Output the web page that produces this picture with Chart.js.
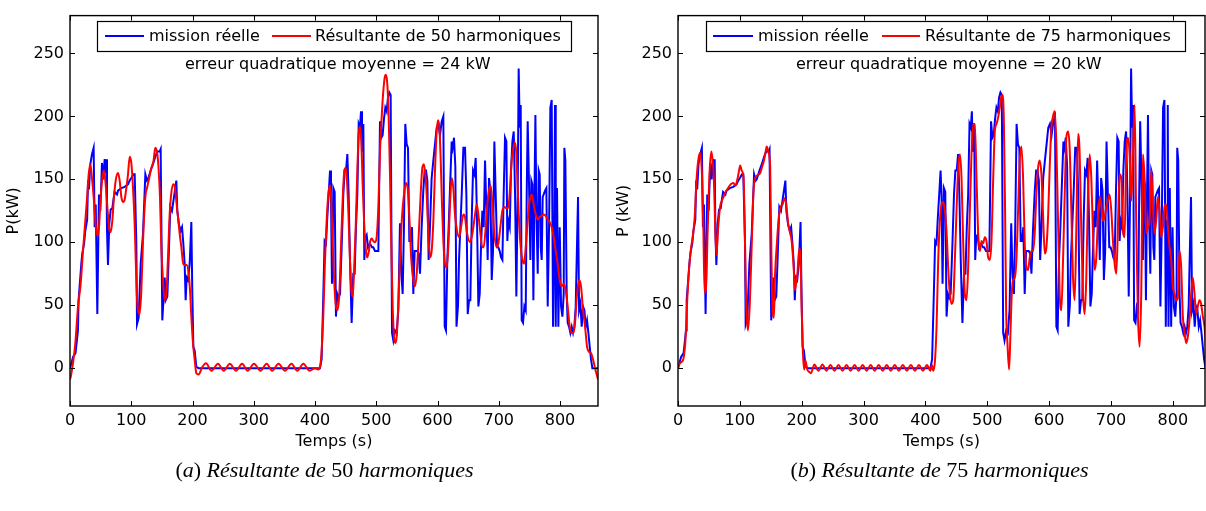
<!DOCTYPE html>
<html><head><meta charset="utf-8">
<script src="https://cdn.jsdelivr.net/npm/chart.js@4.4.0/dist/chart.umd.min.js"></script>
<style>
html,body{margin:0;padding:0;background:#fff;width:1206px;height:511px;overflow:hidden;}
#c1{position:absolute;left:0;top:0;}
#c2{position:absolute;left:603px;top:0;}
.cap{position:absolute;top:454px;width:603px;text-align:center;font-family:"Liberation Serif","Times New Roman",serif;font-size:22px;line-height:32px;color:#000;white-space:nowrap;}
.cap i{font-style:italic}
</style></head><body>
<canvas id="c1" width="603" height="511"></canvas>
<canvas id="c2" width="603" height="511"></canvas>
<div class="cap" style="left:23px">(<i>a</i>) <i>Résultante de</i> 50 <i>harmoniques</i></div>
<div class="cap" style="left:638px">(<i>b</i>) <i>Résultante de</i> 75 <i>harmoniques</i></div>
<script>
// ---- data (time in s, power in kW) ----
const blueT = [0,1,5,9,13,14,18.5,20,23,25,28,29.4,31,33.2,35.9,38.6,40.3,42,44.6,47.3,49.5,52.2,54.4,56.6,58.2,59.3,60.4,62,64.2,66.4,69.1,71.3,72.9,76.7,78.4,83.8,89.3,94.7,97.4,100.1,103.4,105.6,108.3,109.4,112.1,115.4,119.2,123,125.7,127.3,131.7,135.5,139.3,142.6,146.4,148,150.7,154.6,156.2,158.9,161.1,163.8,166.5,169.8,173.6,175.2,178,180.7,182.9,185,187.2,188.8,190.5,192.7,195.4,198.1,199.7,201.4,203.5,206.3,210,
408,410.8,413.6,415.7,417.9,420.1,422.3,424.5,426.1,427.7,429.9,432.1,434.2,436.4,438.6,440.8,443.5,446.2,448.4,450.6,452.8,454.9,457.1,459.8,462.5,464.7,466.9,469.1,471.3,473.4,475.1,476.7,478.9,480.5,482.1,484.3,486.5,488.7,490.8,493,495.2,497.9,500.6,503.4,506.1,508.3,510.4,512.6,514.8,517,519.1,521.3,523.5,525.7,527.9,530.6,533.3,536,538.7,540.9,543.1,545.3,547.4,549.6,551.8,554,556.2,558.3,560.5,562.7,564.9,567,569.2,571.4,574.1,576.8,579,581.2,583.4,585.5,587.7,590.4,593.2,595.9,598.6,601.3,604,606.8,609.5,611.7,613.8,616,618.2,620.4,623.1,624.7,626.9,629.1,631,633.5,635.1,637.3,639.5,642.2,644.9,647.1,649.3,651.5,653.6,655.8,658,660.2,662.3,664.5,666.7,668.9,671,673.2,675.4,677.6,679.8,681.9,684.1,686.3,688.5,690.6,692.8,695,697.2,699.3,701.5,703.7,705.9,708,710.2,712.4,714,715.7,717.9,720,722.2,724.4,726.6,728.7,730.9,732.5,734.2,735.8,737.4,739.6,741.8,744,745.6,747.2,749.4,751.6,753.2,754.9,756.5,758.1,759.8,761.4,763.6,765.2,766.8,768.5,770.1,771.7,773.4,775.5,777.7,779.9,782.1,784.2,786.4,788.6,790.8,791.8,793,795.1,797.3,799.5,801.7,803.9,806,807.1,808.7,810.9,812.5,814.7,816.9,819.1,821.3,823.4,825.6,827.8,829.4,831.1,833.2,835.4,837.6,839.8,841.9,844.1,846.3,848.5,850.6,852.8,862];
const blueP = [0,0,9,12,30,54,83,91,99,109,118,149,142,162,170,175,112,130,43,138,125,163,150,166,155,166,110,82,115,126,127,135,140,138,141,143,144,146,149,151,154,154,99,35,40,83,107,154,149,150,157,162,168,172,172,174,38,72,54,57,88,128,125,136,149,125,114,109,112,99,83,54,72,70,83,116,60,17,14,1,0,
0,7,59,101,99,120,138,157,136,67,143,140,41,59,56,59,96,138,157,157,170,138,86,36,75,75,112,138,194,191,204,172,194,86,104,106,96,98,98,96,96,93,93,93,196,183,185,198,207,204,215,219,217,28,22,30,28,46,115,75,59,115,194,178,175,101,101,112,59,93,93,93,91,75,112,141,157,157,149,86,112,151,165,178,191,194,185,196,200,33,30,86,112,143,180,175,183,160,33,50,86,112,138,175,175,138,43,54,54,117,157,154,167,117,49,59,96,125,112,165,125,86,151,141,70,93,180,138,96,96,93,88,86,138,183,180,101,117,112,157,180,188,138,57,138,238,191,209,38,36,49,46,138,196,146,86,149,146,54,130,201,125,75,157,154,96,86,136,138,141,143,49,112,207,213,33,117,209,33,143,33,112,49,41,59,175,165,59,36,33,28,33,28,33,49,100,136,46,51,33,49,46,33,38,28,17,7,0,0];

const red50T = [0,1.1,4.9,8.7,13.1,17.4,21.2,25,28.3,30.5,33.2,35.9,38.6,41.9,44.6,47.3,50.1,52.8,55.5,58.2,61,63.7,66.4,69.1,71.8,74.6,78.4,81.1,83.8,86.5,89.3,92,94.7,97.4,100.1,102.9,105.6,107.2,108.8,111,113.7,116.5,119.2,123,125.7,128.4,132.8,136.1,139.3,142.6,144.8,146.9,149.1,151.8,154.6,157.3,160,162.7,165.4,168.7,171.4,174.1,176.3,179,181.8,184.5,187.2,190.5,193.7,195.9,198.1,200.8,203.5,206.3,210,216,222,231,241.6,251,261,271,281,290,300.4,311,321,330,340.4,351,361.6,371,381,391,400,405,
408.1,410.8,413.6,416.3,419,421.7,424.5,426.6,428.8,431,433.7,436.4,439.7,442.4,445.1,447.9,450,452.2,454.4,457.1,459.3,461.5,463.6,466.4,469.1,471.3,473.4,475.6,477.8,480.5,483.2,485.4,487.6,489.8,492.5,495.2,497.9,500.6,503.4,506.1,508.8,511.5,514.3,515.9,518.1,520.2,522.4,524.6,526.8,529,531.1,533.3,536,538.7,542,545.3,548.5,551.3,554,557.2,560.5,563.2,566,569.2,572.5,575.2,577.9,580.1,582.3,585,587.7,590.4,593.2,595.9,598.6,600.8,603,605.1,607.3,609.5,612.2,615,617.6,620.4,623.1,625.8,628.5,631.5,635.1,638.4,642.2,644.9,647.6,653.1,656.9,661.3,664,666.7,670,673.2,675.4,678.7,681.9,684.7,686.8,689.6,692.8,696.1,699.3,702.6,705.9,709.1,713,715.7,718.4,721.1,723.8,726.6,728.7,730.9,733.1,735.8,738.5,741.3,744,747.2,750.5,753.8,757,760.3,763.6,766.8,770.1,773.4,776.6,779.9,783.2,786.4,789.7,793,796.2,799.5,802.7,806,809.3,812.5,815.8,819.1,821.8,824.5,827.8,831.1,834.3,837.6,840.9,844.1,847.4,850.6,853.9,857.2,862];
const red50P = [-9,-7,4,20,49,67,93,117,138,154,162,151,136,114,105,112,136,151,157,146,128,112,108,117,136,149,155,149,136,132,134,143,154,168,163,143,114,88,62,46,43,62,101,136,143,149,159,164,175,170,157,136,96,70,54,59,88,122,139,146,143,130,120,107,96,84,82,82,75,62,41,20,7,-4,-5,1,4,-2,3.5,-2,3.5,-2,3.5,-2,3.5,-2,3.5,-2,3.5,-2,3.5,-2,3.5,-2,0,-1,
1,14,43,86,117,138,145,133,99,72,51,46,59,96,133,157,159,149,125,86,62,57,75,112,157,186,192,180,146,112,93,88,92,100,103,101,100,104,128,172,199,220,232,233,225,201,154,96,49,25,20,25,51,86,120,138,147,143,120,86,70,65,75,104,138,159,162,154,138,107,88,93,117,157,188,197,191,167,130,101,83,80,96,130,151,143,122,110,104,112,122,120,109,100,107,122,130,122,107,96,96,112,133,143,145,130,107,96,99,112,125,128,127,128,143,165,175,179,170,143,117,96,86,83,96,117,133,138,130,122,118,120,121,122,121,118,116,112,104,93,83,70,65,67,62,49,33,28,28,36,59,70,65,46,33,17,13,12,7,0,-9];

const red75T = [0,3,6,9,12,15,18,21,24,27,30,33,36,39,41,43,45,48,51,53.8,56,58,60,62,65,68,71,73.6,77,81,85,89.7,93,96,98,100.6,103,106,108,110,113,116,119,122,124.8,128,132.8,136,139,141,143.5,146,149,151,153,155,157,160,163,166,169,172,175,178,181,184,187,189,191,193,196,198,200,202,204,206,209,212.5,215,220.5,227,233.5,240,246.5,253,259.5,266,272.5,279,285.5,292,298.5,305,311.5,318,324.5,331,337.5,344,350.5,357,363.5,370,376.5,383,389.5,396,402.5,408,410.5,
412.6,415.3,418,420.7,423.4,426.1,428.8,431.5,434.1,436.8,439.5,442.2,444.9,447.6,450.3,453,455.7,458.4,461.1,463.7,466.4,469.1,471.8,474.5,477.2,479.9,482.6,485.3,488,490.6,493.3,496,498.7,501.4,504.1,506.8,509.5,512.2,514.9,517.5,520.2,522.4,524.5,526.7,528.8,530.5,532.6,535.3,537.5,539.6,541.8,544.5,547.1,549.8,552.5,555.2,557.9,560.6,563.3,566,568.7,571.4,574,576.7,579.4,582.1,584.8,587.5,590.2,592.9,595.6,598.3,600.9,603.6,606.3,609,611.7,614.4,617.1,619.8,622.5,625.2,627.9,630.5,633.2,635.9,638.6,641.3,644,646.7,649.4,652.1,654.8,657.4,660.1,662.8,665.5,668.2,670.9,673.6,676.3,679,681.7,684.3,687,689.7,692.4,695.1,697.8,700.5,703.2,705.9,708.6,711.2,713.9,716.6,719.3,722,724.7,727.4,730.1,732.8,735.5,738.2,740.9,743.5,746.2,748.9,751.6,754.3,757,759.7,762.4,765.1,767.8,770.4,773.1,775.8,778.5,781.2,783.9,786.6,789.3,792,794.7,797.3,800,802.7,805.4,808.1,810.8,813.5,816.2,818.9,821.6,824.2,826.9,829.6,832.3,835,837.7,840.4,843.1,845.8,848.5,851.2,855];
const red75P = [0,4,5,8,22,55,80,95,105,120,150,166,171,150,110,60,62,110,155,172,165,150,115,90,112,128,133,136,140,143,146,147,145,150,155,161,157,151,110,55,30,50,95,140,151,153,155,160,165,170,176,172,160,90,45,40,75,100,120,128,130,135,130,115,108,100,80,62,68,75,95,90,45,12,-1,6,-1,-3,-4,3,-2,3,-2,2.5,-2,2.5,-2,2.5,-2,2.5,-2,2.5,-2,2.5,-2,2.5,-2,2.5,-2,2.5,-2,2.5,-2,2.5,-2,2.5,-2,2.5,-2,2.5,-2,5,
33,86,117,130,132,125,109,80,59,51,54,86,125,159,170,151,99,59,54,80,125,170,194,194,151,107,93,101,99,104,101,88,86,101,149,188,194,199,207,215,217,199,125,46,20,-1,28,59,70,72,86,125,165,176,151,99,80,78,88,93,93,107,138,159,165,154,122,91,96,120,159,191,200,204,178,117,59,46,86,138,183,188,175,125,72,54,112,186,170,107,59,43,72,138,170,151,107,78,88,120,136,130,117,120,128,133,138,125,101,83,75,112,154,151,112,104,170,183,170,133,170,209,112,43,17,59,170,151,107,112,117,157,128,107,117,136,125,104,112,128,130,112,96,86,65,59,54,56,93,80,41,28,20,25,38,59,72,59,43,49,54,51,41,33,7,1,-2];

const xTickStep = 100, yTickStep = 50;
const yMin = -30, yMax = 280;

function pts(T, P) { return T.map((t, i) => ({x: t, y: P[i]})); }

const FONT = 'DejaVu Sans';

const framePlugin = {
  id: 'frame',
  afterDatasetsDraw(chart) {
    const {ctx, chartArea: a, scales: {x, y}} = chart;
    ctx.save();
    ctx.strokeStyle = '#000';
    ctx.lineWidth = 1.4;
    ctx.strokeRect(a.left, a.top, a.right - a.left, a.bottom - a.top);
    ctx.lineWidth = 1;
    ctx.beginPath();
    x.ticks.forEach(t => {
      const p = Math.round(x.getPixelForValue(t.value)) + 0.5;
      ctx.moveTo(p, a.bottom); ctx.lineTo(p, a.bottom - 5);
      ctx.moveTo(p, a.top); ctx.lineTo(p, a.top + 5);
    });
    y.ticks.forEach(t => {
      const p = Math.round(y.getPixelForValue(t.value)) + 0.5;
      ctx.moveTo(a.left, p); ctx.lineTo(a.left + 5, p);
      ctx.moveTo(a.right, p); ctx.lineTo(a.right - 5, p);
    });
    ctx.stroke();
    ctx.restore();
  },
  afterDraw(chart, args, o) {
    const {ctx} = chart;
    const ds = chart.data.datasets;
    ctx.save();
    ctx.fillStyle = '#fff';
    ctx.fillRect(o.box[0], o.box[1], o.box[2], o.box[3]);
    ctx.strokeStyle = '#000';
    ctx.lineWidth = 1.2;
    ctx.strokeRect(o.box[0] + 0.5, o.box[1] + 0.5, o.box[2], o.box[3]);
    ctx.font = '16px "' + FONT + '"';
    ctx.textBaseline = 'middle';
    ctx.textAlign = 'left';
    const ym = o.box[1] + o.box[3] / 2;
    o.items.forEach((it, i) => {
      const d = ds[i];
      ctx.strokeStyle = d.borderColor;
      ctx.lineWidth = 2;
      ctx.beginPath();
      ctx.moveTo(it[0], ym); ctx.lineTo(it[1], ym);
      ctx.stroke();
      ctx.fillStyle = '#000';
      ctx.fillText(d.label, it[2], ym + 1);
    });
    ctx.fillText(o.err, o.errPos[0], o.errPos[1]);
    ctx.restore();
  }
};

function makeChart(id, redT, redP, redLabel, xMax, yWidth, rightPad, yTitle, yTitlePad, legend) {
  return new Chart(document.getElementById(id), {
    type: 'line',
    data: {
      datasets: [
        {label: 'mission réelle', data: pts(blueT, blueP), borderColor: '#0000ff', borderWidth: 2, pointRadius: 0, tension: 0, order: 1},
        {label: redLabel, data: pts(redT, redP), borderColor: '#ff0000', borderWidth: 2, pointRadius: 0, cubicInterpolationMode: 'monotone', order: 0}
      ]
    },
    options: {
      responsive: false, animation: false, devicePixelRatio: 1,
      parsing: false, normalized: true,
      layout: {padding: {top: 13, right: rightPad, left: 0, bottom: 0}},
      plugins: {legend: {display: false}, tooltip: {enabled: false}, frame: legend},
      scales: {
        x: {
          type: 'linear', min: 0, max: xMax,
          afterFit(s) { s.height = 105; },
          grid: {display: false, drawTicks: false}, border: {display: false},
          ticks: {stepSize: xTickStep, includeBounds: false, autoSkip: false, maxRotation: 0, padding: 5, color: '#000', font: {family: FONT, size: 16}},
          title: {display: true, text: 'Temps (s)', color: '#000', font: {family: FONT, size: 16}, padding: {top: 0, bottom: 60}}
        },
        y: {
          type: 'linear', min: yMin, max: yMax,
          afterFit(s) { s.width = yWidth; },
          grid: {display: false, drawTicks: false}, border: {display: false},
          ticks: {stepSize: yTickStep, includeBounds: false, padding: 6, color: '#000', font: {family: FONT, size: 16}},
          title: {display: true, text: yTitle, color: '#000', font: {family: FONT, size: 16}, padding: {top: yTitlePad, bottom: 0}}
        }
      }
    },
    plugins: [framePlugin]
  });
}

makeChart('c1', red50T, red50P, 'Résultante de 50 harmoniques', 862, 70, 5, 'P(kW)', 4,
  {box: [97, 21, 474, 30], items: [[105, 144, 149], [272, 311, 315]], err: 'erreur quadratique moyenne = 24 kW', errPos: [185, 65]});
makeChart('c2', red75T, red75P, 'Résultante de 75 harmoniques', 852, 75, 1, 'P (kW)', 11,
  {box: [103, 21, 479, 30], items: [[110, 150, 155], [279, 317, 322]], err: 'erreur quadratique moyenne = 20 kW', errPos: [193, 65]});
</script>
</body></html>
